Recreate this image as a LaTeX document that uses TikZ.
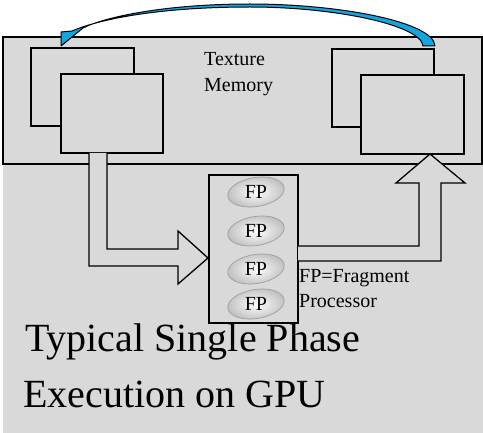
\documentclass[tikz,border=0pt]{standalone}
\usepackage{fontspec}
\setmainfont{Liberation Serif}
\usetikzlibrary{shapes.geometric}
\definecolor{bggray}{RGB}{217,217,217}
\definecolor{arrowblue}{RGB}{20,165,225}
\begin{document}
\begin{tikzpicture}[x=1pt,y=-1pt,
  box/.style={draw=black, line width=1.3pt, fill=bggray, inner sep=0pt, outer sep=0pt, anchor=north west},
  blockarrow/.style={draw=black, line width=1.3pt, fill=bggray, line join=miter},
  small/.style={font=\fontsize{20}{24}\selectfont, inner sep=0pt, anchor=base west},
  big/.style={font=\fontsize{40}{48}\selectfont, inner sep=0pt, anchor=base west},
  fpell/.style={ellipse, minimum width=57pt, minimum height=29pt, inner sep=0pt, draw=gray!75, line width=0.7pt, inner color=white, outer color=gray!50, rotate=9},
  fptext/.style={font=\fontsize{20}{24}\selectfont, inner sep=0pt},
]
\useasboundingbox (0,0) rectangle (483,433);
\fill[bggray] (3,37) rectangle (483,433);

% texture memory
\node[box, minimum width=479pt, minimum height=127pt] (tex) at (3,37) {};
\node[box, minimum width=103pt, minimum height=78pt] (lback) at (31,48) {};
\node[box, minimum width=102pt, minimum height=79pt] (lfront) at (61,74) {};
\node[box, minimum width=102pt, minimum height=78pt] (rback) at (332,49) {};
\node[box, minimum width=103pt, minimum height=79pt] (rfront) at (361,75) {};
\node[small] (t1) at (204,66) {Texture};
\node[small] (t2) at (204,92) {Memory};

% FP box
\node[box, minimum width=89pt, minimum height=148pt] (fpbox) at (209,175) {};

% block arrow down-right into FP box
\coordinate (da) at (89,153);
\coordinate (tipL) at (208,258);
\path[blockarrow] (da) -- (89,266) -- (178,266) -- (178,284) -- (tipL) -- (178,231) -- (178,249) -- (107,249) -- (107,153);

% block arrow from FP box up to right texture
\coordinate (ua) at (298,246);
\coordinate (tipR) at (430,154);
\path[blockarrow] (ua) -- (419,246) -- (419,183) -- (396,183) -- (tipR) -- (465,183) -- (441,183) -- (441,261) -- (298,261);

% FP ellipses
\foreach \i/\y in {1/192,2/231,3/269,4/304}{
  \node[fpell] (fp\i) at (256,\y) {};
  \node[fptext] at (fp\i) {FP};
}

\node[small] (leg1) at (299,283) {FP=Fragment};
\node[small] (leg2) at (299,308) {Processor};

% curved arrow
\filldraw[fill=arrowblue, draw=black, line width=1pt, line join=round]
  (435,46) .. controls (434,22) and (340,4) .. (250,4)
  .. controls (165,4) and (105,17) .. (83,28)
  -- (61,46) -- (61,32) -- (72,31)
  .. controls (105,17) and (168,7) .. (250,7)
  .. controls (335,7) and (421,25) .. (423,46) -- cycle;

% title
\node[big] (title1) at (25,352) {Typical Single Phase};
\node[big] (title2) at (23,408) {Execution on GPU};
\end{tikzpicture}
\end{document}
